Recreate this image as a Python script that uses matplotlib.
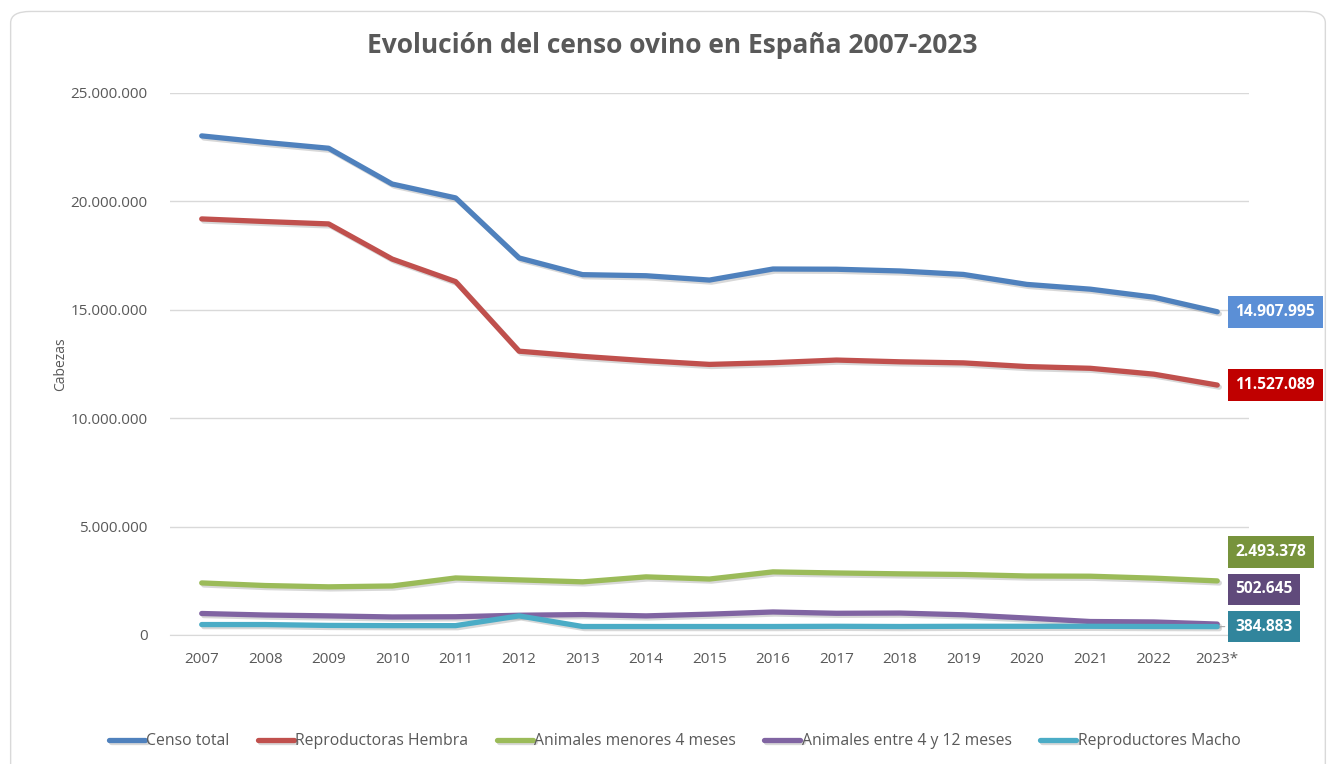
import matplotlib
matplotlib.use("Agg")
import matplotlib.pyplot as plt
import matplotlib.patheffects as pe
from matplotlib.patches import FancyBboxPatch
from matplotlib.ticker import FuncFormatter

plt.rcParams['font.family'] = ['Open Sans', 'DejaVu Sans']

years = ["2007", "2008", "2009", "2010", "2011", "2012", "2013", "2014", "2015",
         "2016", "2017", "2018", "2019", "2020", "2021", "2022", "2023*"]

censo_total = [23.02, 22.72, 22.45, 20.80, 20.16, 17.39, 16.62, 16.57, 16.37,
               16.88, 16.87, 16.79, 16.63, 16.17, 15.95, 15.58, 14.907995]
reproductoras_hembra = [19.19, 19.07, 18.96, 17.34, 16.30, 13.09, 12.85, 12.65, 12.48,
                        12.56, 12.68, 12.60, 12.55, 12.38, 12.30, 12.03, 11.527089]
menores_4_meses = [2.40, 2.28, 2.22, 2.26, 2.63, 2.54, 2.45, 2.68, 2.58,
                   2.91, 2.86, 2.82, 2.79, 2.72, 2.71, 2.62, 2.493378]
entre_4_y_12 = [0.99, 0.92, 0.88, 0.83, 0.84, 0.91, 0.94, 0.88, 0.96,
                1.06, 1.00, 1.01, 0.93, 0.78, 0.62, 0.60, 0.502645]
reproductores_macho = [0.48, 0.48, 0.44, 0.43, 0.43, 0.88, 0.39, 0.39, 0.39,
                       0.39, 0.40, 0.39, 0.40, 0.40, 0.40, 0.39, 0.384883]

series = [
    ("Censo total", censo_total, "#4F81BD", "#5B8FD6", "14.907.995", 0),
    ("Reproductoras Hembra", reproductoras_hembra, "#C0504D", "#C00000", "11.527.089", 0),
    ("Animales menores 4 meses", menores_4_meses, "#9BBB59", "#77933C", "2.493.378", 21),
    ("Animales entre 4 y 12 meses", entre_4_y_12, "#8064A2", "#604A7B", "502.645", 25),
    ("Reproductores Macho", reproductores_macho, "#4BACC6", "#31859C", "384.883", 0),
]

fig = plt.figure(figsize=(13.28, 7.64), dpi=100)
ax = fig.add_axes([0.128, 0.1689, 0.8125, 0.7094])

x = list(range(len(years)))
shadow = [pe.SimpleLineShadow(offset=(1.5, -1.5), shadow_color="gray", alpha=0.3), pe.Normal()]
for name, vals, col, boxcol, lab, dy in series:
    ax.plot(x, [v * 1e6 for v in vals], color=col, lw=3.8, label=name,
            solid_capstyle="round", solid_joinstyle="round", path_effects=shadow, zorder=3)
    ax.annotate(lab, xy=(x[-1], vals[-1] * 1e6), xytext=(13, dy), textcoords="offset points",
                ha="left", va="center", color="white", fontsize=11.2, fontweight="bold",
                bbox=dict(boxstyle="square,pad=0.5", fc=boxcol, ec="none"),
                arrowprops=dict(arrowstyle="-", color="#A6A6A6", lw=0.8) if name == "Reproductores Macho" else None,
                annotation_clip=False, zorder=5)

ax.set_xlim(-0.5, len(years) - 0.5)
ax.set_ylim(0, 25e6)
ax.set_yticks([0, 5e6, 10e6, 15e6, 20e6, 25e6])
ax.yaxis.set_major_formatter(FuncFormatter(lambda v, p: f"{int(v):,}".replace(",", ".")))
ax.set_xticks(x)
ax.set_xticklabels(years)
ax.tick_params(axis="both", length=0, labelsize=11, colors="#595959")
ax.tick_params(axis="x", pad=12)
ax.tick_params(axis="y", pad=16)
ax.grid(axis="y", color="#D9D9D9", lw=1)
ax.set_axisbelow(True)
for s in ["top", "right", "left"]:
    ax.spines[s].set_visible(False)
ax.spines["bottom"].set_color("#D9D9D9")
ax.set_ylabel("Cabezas", fontsize=10, color="#595959", labelpad=2)

fig.text(0.506, 0.941, "Evolución del censo ovino en España 2007-2023", ha="center", va="center",
         fontsize=19, fontweight="bold", color="#595959")

fig.legend(loc="center", bbox_to_anchor=(0.508, 0.03), ncol=5, frameon=False, fontsize=11.3,
           handlelength=2.3, handletextpad=0.1, columnspacing=1.8, labelcolor="#595959")

fig.patches.append(FancyBboxPatch((0.008, -0.02), 0.99, 1.005, boxstyle="round,pad=0,rounding_size=0.015",
                                  transform=fig.transFigure, fc="none", ec="#D9D9D9", lw=1))

fig.savefig("out.png", dpi=100)
